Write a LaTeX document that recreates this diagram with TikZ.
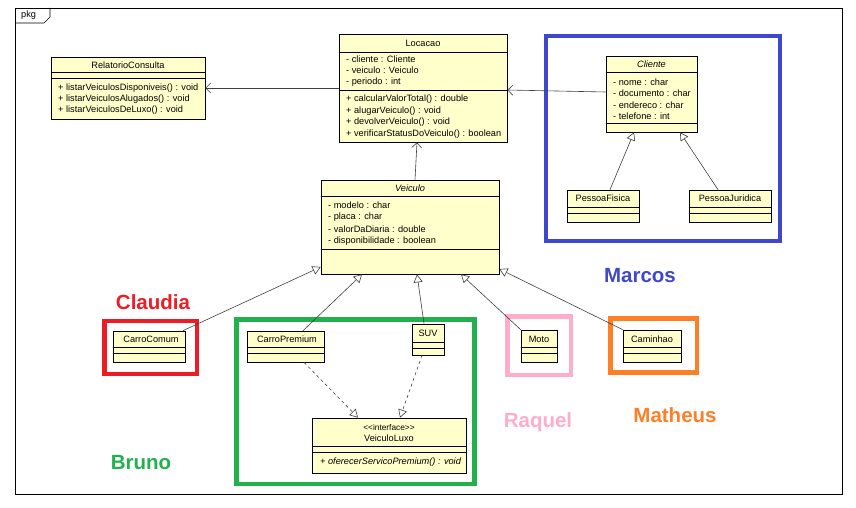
\documentclass[tikz,border=0pt]{standalone}
\usepackage{fontspec}
\setmainfont{Liberation Sans}
\usetikzlibrary{arrows.meta,fit}
\definecolor{clsfill}{HTML}{FFFFCC}
\definecolor{lnc}{HTML}{404040}
\definecolor{cRed}{HTML}{ED1C24}
\definecolor{cBlue}{HTML}{3F48CC}
\definecolor{cGreen}{HTML}{22B14C}
\definecolor{cPink}{HTML}{FFAEC9}
\definecolor{cOrange}{HTML}{FF7F27}
\tikzset{
  cls/.style={draw=black, fill=clsfill, line width=0.7pt, inner sep=0pt},
  sepline/.style={draw=black, line width=0.6pt},
  txt/.style={inner sep=0pt, anchor=west, font=\fontsize{9.2}{10}\selectfont},
  ctxt/.style={inner sep=0pt, anchor=center, font=\fontsize{9.2}{10}\selectfont},
  lbl/.style={inner sep=0pt, anchor=center, font=\fontsize{20.5}{22}\selectfont\bfseries},
  grp/.style={line width=4.5pt},
  gen/.style={draw=lnc, line width=0.6pt, -{Triangle[open, length=8pt, width=9pt, fill=white]}},
  assoc/.style={draw=lnc, line width=0.6pt, -{Straight Barb[length=5pt, width=10pt]}},
  real/.style={draw=lnc, line width=0.6pt, dash pattern=on 3pt off 3pt, -{Triangle[open, length=8pt, width=9pt, fill=white]}}
}
\begin{document}
\begin{tikzpicture}[x=1pt, y=-1pt]
\useasboundingbox[fill=white] (0,0) rectangle (856,508);
% outer frame
\draw[line width=0.6pt] (15,8) rectangle (842,494);
\draw[line width=0.6pt] (15,23) -- (44,23) -- (50,17) -- (50,8);
\node[txt] (pkg) at (21,15.5) {pkg};

% colored group boxes
\draw[grp, cBlue] (546,36) rectangle (780,241);
\draw[grp, cRed] (104.5,321) rectangle (197,374);
\draw[grp, cGreen] (236.5,319.5) rectangle (474.5,484);
\draw[grp, cPink] (507.5,316.5) rectangle (571,375);
\draw[grp, cOrange] (610.5,318.5) rectangle (697,372.5);

% RelatorioConsulta
\node[cls, fit={(51,57) (205,119)}] (rel) {};
\draw[sepline] (rel.west |- 0,72) -- (rel.east |- 0,72);
\draw[sepline] (rel.west |- 0,78) -- (rel.east |- 0,78);
\node[ctxt] (reln) at (128,65) {RelatorioConsulta};
\node[txt] (relm1) at (58,88) {+ listarVeiculosDisponiveis() : void};
\node[txt] (relm2) at (58,99) {+ listarVeiculosAlugados() : void};
\node[txt] (relm3) at (58,110) {+ listarVeiculosDeLuxo() : void};

% Locacao
\node[cls, fit={(339,34) (507,142)}] (loc) {};
\draw[sepline] (loc.west |- 0,52) -- (loc.east |- 0,52);
\draw[sepline] (loc.west |- 0,90) -- (loc.east |- 0,90);
\node[ctxt] (locn) at (423,43) {Locacao};
\node[txt] (loca1) at (346,59) {- cliente : Cliente};
\node[txt] (loca2) at (346,70.5) {- veiculo : Veiculo};
\node[txt] (loca3) at (346,82) {- periodo : int};
\node[txt] (locm1) at (346,99.5) {+ calcularValorTotal() : double};
\node[txt] (locm2) at (346,111) {+ alugarVeiculo() : void};
\node[txt] (locm3) at (346,122.5) {+ devolverVeiculo() : void};
\node[txt] (locm4) at (346,134) {+ verificarStatusDoVeiculo() : boolean};

% Cliente
\node[cls, fit={(606,56) (697,132)}] (cli) {};
\draw[sepline] (cli.west |- 0,72) -- (cli.east |- 0,72);
\draw[sepline] (cli.west |- 0,123) -- (cli.east |- 0,123);
\node[ctxt, font=\fontsize{9.2}{10}\selectfont\itshape] (clin) at (651.5,64) {Cliente};
\node[txt] (clia1) at (613,82) {- nome : char};
\node[txt] (clia2) at (613,93.5) {- documento : char};
\node[txt] (clia3) at (613,105) {- endereco : char};
\node[txt] (clia4) at (613,116) {- telefone : int};

% PessoaFisica / PessoaJuridica
\node[cls, fit={(567,190) (639,222)}] (pf) {};
\draw[sepline] (pf.west |- 0,207) -- (pf.east |- 0,207);
\draw[sepline] (pf.west |- 0,213) -- (pf.east |- 0,213);
\node[ctxt] (pfn) at (603,198.5) {PessoaFisica};
\node[cls, fit={(689,190) (771,222)}] (pj) {};
\draw[sepline] (pj.west |- 0,207) -- (pj.east |- 0,207);
\draw[sepline] (pj.west |- 0,213) -- (pj.east |- 0,213);
\node[ctxt] (pjn) at (730,198.5) {PessoaJuridica};

% Veiculo
\node[cls, fit={(321,180) (499,274)}] (vei) {};
\draw[sepline] (vei.west |- 0,196) -- (vei.east |- 0,196);
\draw[sepline] (vei.west |- 0,249) -- (vei.east |- 0,249);
\node[ctxt, font=\fontsize{9.2}{10}\selectfont\itshape] (vein) at (410,188) {Veiculo};
\node[txt] (veia1) at (328,205.5) {- modelo : char};
\node[txt] (veia2) at (328,217.5) {- placa : char};
\node[txt] (veia3) at (328,229.5) {- valorDaDiaria : double};
\node[txt] (veia4) at (328,241) {- disponibilidade : boolean};

% CarroComum
\node[cls, fit={(113,331) (185,362)}] (cc) {};
\draw[sepline] (cc.west |- 0,347) -- (cc.east |- 0,347);
\draw[sepline] (cc.west |- 0,353) -- (cc.east |- 0,353);
\node[ctxt] (ccn) at (151,339.5) {CarroComum};

% CarroPremium
\node[cls, fit={(247,331) (324,362)}] (cp) {};
\draw[sepline] (cp.west |- 0,347) -- (cp.east |- 0,347);
\draw[sepline] (cp.west |- 0,353) -- (cp.east |- 0,353);
\node[ctxt] (cpn) at (287,339.5) {CarroPremium};

% SUV
\node[cls, fit={(412,324) (444,355)}] (suv) {};
\draw[sepline] (suv.west |- 0,342) -- (suv.east |- 0,342);
\draw[sepline] (suv.west |- 0,348) -- (suv.east |- 0,348);
\node[ctxt] (suvn) at (428,333) {SUV};

% VeiculoLuxo
\node[cls, fit={(312,418) (466,473)}] (vl) {};
\draw[sepline] (vl.west |- 0,446) -- (vl.east |- 0,446);
\draw[sepline] (vl.west |- 0,452) -- (vl.east |- 0,452);
\node[ctxt, font=\fontsize{8.3}{9}\selectfont] (vls) at (389,427.5) {<{}<interface>{}>};
\node[ctxt] (vln) at (389,438.5) {VeiculoLuxo};
\node[txt, font=\fontsize{9.2}{10}\selectfont\itshape] (vlm) at (320,462) {+ oferecerServicoPremium() : void};

% Moto
\node[cls, fit={(521,330) (557,362)}] (moto) {};
\draw[sepline] (moto.west |- 0,347) -- (moto.east |- 0,347);
\draw[sepline] (moto.west |- 0,353) -- (moto.east |- 0,353);
\node[ctxt] (moton) at (539,339) {Moto};

% Caminhao
\node[cls, fit={(623,330) (681,362)}] (cam) {};
\draw[sepline] (cam.west |- 0,347) -- (cam.east |- 0,347);
\draw[sepline] (cam.west |- 0,353) -- (cam.east |- 0,353);
\node[ctxt] (camn) at (652,339) {Caminhao};

% names
\node[lbl, text=cRed] (lclaudia) at (153,302) {Claudia};
\node[lbl, text=cBlue] (lmarcos) at (640,276) {Marcos};
\node[lbl, text=cGreen] (lbruno) at (141,463) {Bruno};
\node[lbl, text=cPink] (lraquel) at (538,422) {Raquel};
\node[lbl, text=cOrange] (lmatheus) at (675,415) {Matheus};

% connectors
\draw[assoc] (loc.west |- 0,88) -- (rel.east |- 0,88);
\draw[assoc] (cli.west |- 0,92) -- (loc.east |- 0,90);
\draw[assoc] (vei.north -| 415,0) -- (loc.south -| 417,0);
\draw[gen] (pf.north -| 610,0) -- (cli.south -| 634,0);
\draw[gen] (pj.north -| 718,0) -- (cli.south -| 680,0);
\draw[gen] (cc.north -| 183,0) -- (vei.west |- 0,267);
\draw[gen] (cp.north -| 303,0) -- (vei.south -| 362,0);
\draw[gen] (suv.north -| 424,0) -- (vei.south -| 417,0);
\draw[gen] (moto.north west) -- (vei.south -| 461,0);
\draw[gen] (cam.north west) -- (vei.east |- 0,269);
\draw[real] (cp.south -| 304,0) -- (vl.north -| 358,0);
\draw[real] (suv.south -| 422,0) -- (vl.north -| 400,0);
\end{tikzpicture}
\end{document}
